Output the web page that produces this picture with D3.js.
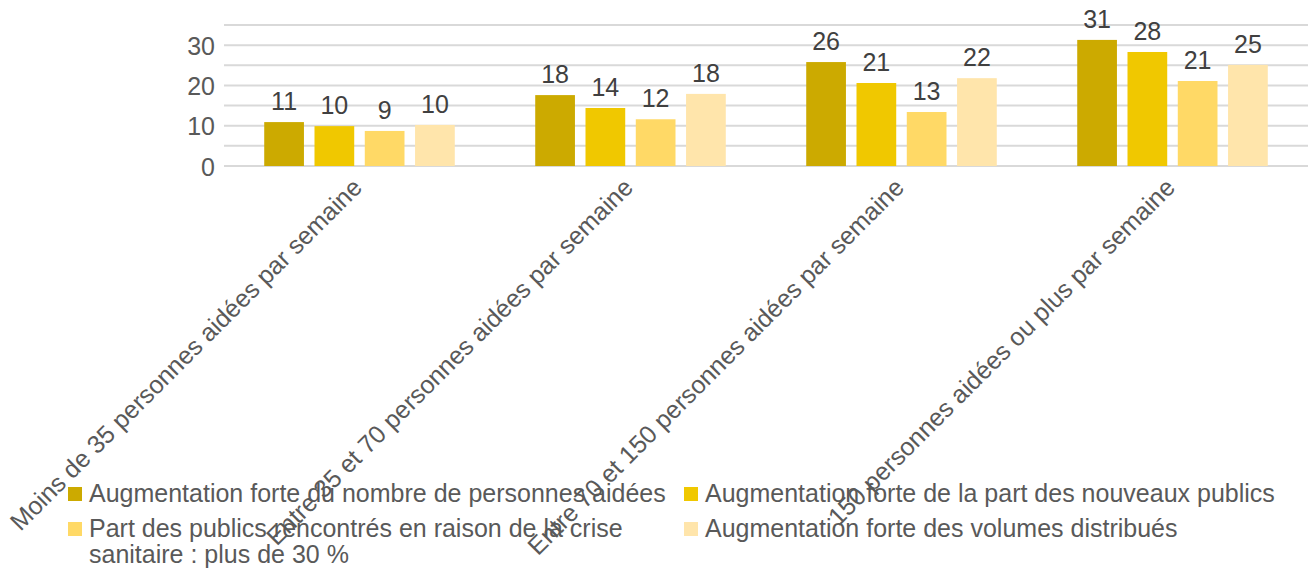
<!DOCTYPE html>
<html>
<head>
<meta charset="utf-8">
<script src="https://cdn.jsdelivr.net/npm/d3@7"></script>
<style>
body{margin:0;background:#fff;}
svg{display:block;font-family:"Liberation Sans",Arial,sans-serif;}
</style>
</head>
<body>
<svg id="svg" width="1308" height="568"></svg>
<script>
// categories and series
let categories=["Moins de 35 personnes aidées par semaine","Entre 35 et 70 personnes aidées par semaine","Entre 70 et 150 personnes aidées par semaine","150 personnes aidées ou plus par semaine"];
let seriesNames=["Augmentation forte du nombre de personnes aidées","Augmentation forte de la part des nouveaux publics","Part des publics rencontrés en raison de la crise sanitaire : plus de 30 %","Augmentation forte des volumes distribués"];
let nombre=[10.9,17.6,25.8,31.3];
let nouveaux=[9.9,14.4,20.6,28.3];
let crise=[8.7,11.6,13.4,21.1];
let volumes=[10.2,17.9,21.8,25.1];
let colors=["#CCAA00","#F0C800","#FFD966","#FFE5AB"];
let yTicks=[0,10,20,30];
let gridTicks=[0,5,10,15,20,25,30,35];

let series=[nombre,nouveaux,crise,volumes];
const svg=d3.select("#svg");
const pLeft=224, pRight=1308, pTop=25, pBottom=166;

const x=d3.scaleBand().domain(categories).range([pLeft,pRight]);
const xs=d3.scaleBand().domain(d3.range(4)).range([0,x.bandwidth()]).paddingInner(0.21).paddingOuter(0.8);
const y=d3.scaleLinear().domain([0,35]).range([pBottom,pTop]);

// grid
svg.append("g").selectAll("line").data(gridTicks).join("line")
    .attr("x1",pLeft).attr("x2",pRight)
    .attr("y1",d=>y(d)).attr("y2",d=>y(d))
    .attr("stroke","#D9D9D9").attr("stroke-width",2);

// y axis labels
const yAxis=d3.axisLeft(y).tickValues(yTicks).tickSize(0).tickPadding(0);
const ya=svg.append("g").attr("transform","translate(215,0)").call(yAxis);
ya.select(".domain").remove();
ya.selectAll("text").attr("dy","0.36em").style("font-size","25px").style("fill","#595959").style("font-family","Liberation Sans");

// bars
const rows=[];
categories.forEach((c,i)=>series.forEach((s,j)=>rows.push({c:c,j:j,v:s[i]})));
svg.append("g").selectAll("rect").data(rows).join("rect")
    .attr("x",d=>x(d.c)+xs(d.j)).attr("width",xs.bandwidth())
    .attr("y",d=>y(d.v)).attr("height",d=>y(0)-y(d.v))
    .attr("fill",d=>colors[d.j]);

svg.append("g").selectAll("text").data(rows).join("text")
    .attr("x",d=>x(d.c)+xs(d.j)+xs.bandwidth()/2).attr("y",d=>y(d.v)-12)
    .attr("text-anchor","middle").style("font-size","25px").style("fill","#404040")
    .text(d=>Math.round(d.v));

// category labels, rotated
svg.append("g").selectAll("text").data(categories).join("text")
    .attr("transform",d=>"translate("+(x(d)+x.bandwidth()/2+4)+",189) rotate(-45)")
    .attr("text-anchor","end").style("font-size","25px").style("fill","#595959")
    .text(d=>d);

// legend
const leg=[{x:68,y:502,lines:[seriesNames[0]]},{x:684,y:502,lines:[seriesNames[1]]},
           {x:68,y:537,lines:["Part des publics rencontrés en raison de la crise","sanitaire : plus de 30 %"]},{x:684,y:537,lines:[seriesNames[3]]}];
leg.forEach((l,i)=>{
    svg.append("rect").attr("x",l.x).attr("y",l.y-15).attr("width",14).attr("height",14).attr("fill",colors[i]);
    const t=svg.append("text").attr("x",l.x+21).attr("y",l.y).style("font-size","25px").style("fill","#595959");
    l.lines.forEach((s,k)=>t.append("tspan").attr("x",l.x+21).attr("dy",k==0?0:26).text(s));
});
</script>
</body>
</html>
